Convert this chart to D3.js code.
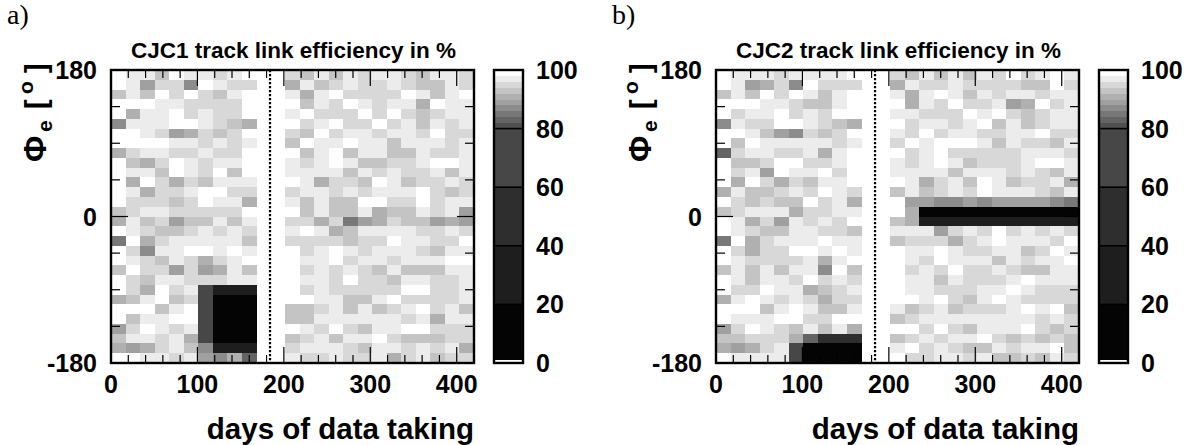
<!DOCTYPE html>
<html>
<head>
<meta charset="utf-8">
<script src="https://cdn.jsdelivr.net/npm/d3@7/dist/d3.min.js"></script>
<style>
  body { margin: 0; background: #fff; }
  svg { display: block; }
  text { font-family: "Liberation Sans", Arial, Helvetica, sans-serif; font-weight: bold; fill: #000; }
  .panel-tag { font-family: "Liberation Serif", "DejaVu Serif", serif; font-weight: normal; }
</style>
</head>
<body>
<svg id="fig" width="1194" height="445"></svg>
<script>
// ---- binning of the maps -------------------------------------------------
const dayRange = [0, 420];          // days of data taking
const nDayBins = 25;
const phiRange = [-180, 180];       // azimuth of the electron, degrees
const nPhiBins = 30;

// ---- axis ticks ----------------------------------------------------------
const dayTickLabels = [0, 100, 200, 300, 400];
const dayMinorStep = 20;
const phiTickLabels = [-180, 0, 180];
const phiMinorStep = 45;
const effTickLabels = [0, 20, 40, 60, 80, 100];
const runBoundaryDay = 184;         // dotted line between the two running periods

// ---- contour levels of the grey palette (percent) -------------------------
const effLevels = [0, 1, 20, 40, 60, 80, 82, 84, 86, 88, 90, 92, 94, 96, 98, 100];
const effColors = ["#ffffff", "#040404", "#1e1e1e", "#2e2e2e", "#474747",
                   "#505050", "#646464", "#787878", "#8c8c8c", "#a0a0a0",
                   "#b0b0b0", "#c4c4c4", "#d8d8d8", "#ececec", "#ffffff"];

// ---- link efficiency (%) per (phi bin, day bin) ---------------------------
// one row per phi bin, first row = 168°..180°, last row = -180°..-168°;
// 25 day bins per row, null where no data were taken
const cjc1Eff = [
  [99,97,97,93,99,97,97,95,97,99,null,null,95,93,97,93,97,95,97,97,95,93,97,97,95],
  [99,97,89,95,95,87,99,97,95,95,null,null,91,97,93,95,97,95,95,97,95,93,93,97,95],
  [93,97,93,99,95,99,95,93,97,99,null,null,97,91,97,99,95,95,95,95,99,97,93,97,99],
  [99,99,99,97,97,95,95,95,95,99,null,null,99,93,97,95,99,97,95,97,97,91,99,97,97],
  [99,91,97,97,99,95,97,95,95,99,null,null,97,99,95,95,95,99,95,99,95,93,95,97,97],
  [87,97,97,97,99,99,97,95,93,91,null,null,99,95,97,99,95,95,99,95,97,93,97,95,97],
  [99,99,97,95,89,91,95,93,95,99,null,null,95,93,99,95,97,97,95,97,97,95,99,95,95],
  [99,99,99,99,97,97,95,97,95,97,null,null,93,99,97,97,99,97,97,93,97,97,97,95,97],
  [91,95,97,97,95,95,97,95,95,99,null,null,99,93,97,99,93,97,97,93,93,97,95,95,97],
  [99,93,91,95,99,97,95,97,97,99,null,null,97,95,97,99,97,93,93,95,95,97,99,99,97],
  [99,97,97,93,99,97,95,99,93,99,null,null,97,97,97,97,93,97,95,97,95,95,97,93,97],
  [99,91,99,95,91,95,93,97,97,97,null,null,99,97,91,95,95,93,99,97,93,95,95,97,95],
  [99,97,91,95,95,97,99,99,95,95,null,null,95,97,97,95,97,95,97,97,97,99,95,93,95],
  [99,95,95,95,93,95,99,97,97,91,null,null,97,93,97,93,93,99,99,95,95,99,95,97,97],
  [93,95,97,97,95,95,95,95,95,99,null,null,99,93,97,93,93,97,91,93,93,97,95,97,89],
  [91,97,93,95,89,93,93,97,93,97,null,null,95,95,91,95,85,89,91,95,93,93,89,91,89],
  [99,97,95,93,93,95,97,95,97,95,null,null,97,99,97,91,93,97,97,97,97,95,95,97,95],
  [85,99,91,95,97,97,97,97,97,93,null,null,95,95,95,95,93,95,95,99,97,97,95,95,99],
  [99,95,87,97,97,99,99,97,99,97,null,null,99,95,97,99,97,95,97,97,97,95,93,97,97],
  [99,97,95,93,97,95,91,95,97,99,null,null,99,97,97,99,95,97,97,95,97,97,97,99,99],
  [93,99,95,95,89,95,89,91,97,93,null,null,99,95,97,95,97,95,93,97,93,93,93,97,97],
  [99,95,93,97,97,95,95,95,97,97,null,null,99,97,97,95,99,95,95,93,97,97,95,95,97],
  [99,95,91,99,95,97,70,28,26,27,null,null,99,95,97,95,95,95,95,95,99,99,95,95,97],
  [91,93,97,99,93,95,68, 4, 3, 5,null,null,99,99,97,97,93,93,97,99,95,95,95,95,97],
  [99,99,99,93,97,99,69, 3, 4, 3,null,null,93,93,95,97,93,97,93,95,97,99,95,97,93],
  [99,93,97,97,99,99,68, 4, 3, 4,null,null,93,93,97,97,97,97,97,97,95,97,91,97,97],
  [89,95,99,97,95,97,70, 3, 4, 3,null,null,99,97,95,99,95,93,97,97,99,99,95,95,95],
  [93,97,97,95,97,91,70, 5, 4, 5,null,null,93,95,97,93,97,97,99,95,93,93,93,95,95],
  [91,89,91,95,97,93,87,30,32,31,null,null,95,97,97,97,95,93,97,97,95,97,95,97,91],
  [99,99,97,97,95,97,89,87,91,83,null,null,97,95,95,97,95,95,97,91,95,97,93,95,95]
];

const cjc2Eff = [
  [99,97,97,97,95,97,97,97,97,99,null,null,95,93,97,93,97,93,97,95,99,95,97,99,97],
  [99,97,89,91,95,87,99,95,95,95,null,null,91,97,95,95,97,95,95,95,95,93,93,99,95],
  [93,97,93,99,95,99,97,93,97,99,null,null,97,91,97,99,97,93,97,95,97,97,95,97,97],
  [99,99,99,97,97,95,93,93,97,99,null,null,99,91,97,95,99,95,95,97,89,91,99,95,97],
  [99,95,97,97,99,95,97,95,99,99,null,null,97,97,95,95,95,99,97,99,95,93,95,97,97],
  [87,97,95,95,99,99,97,95,93,91,null,null,99,95,97,97,95,97,99,93,97,93,95,97,97],
  [99,99,97,93,89,87,95,93,95,99,null,null,97,95,99,95,97,97,95,95,97,97,99,95,95],
  [99,93,99,97,97,97,97,97,95,97,null,null,95,99,97,99,99,99,97,93,97,95,95,93,97],
  [83,95,97,97,95,95,97,91,97,99,null,null,99,95,97,99,95,95,95,95,95,97,97,97,95],
  [99,93,93,95,99,99,95,95,97,99,null,null,97,95,97,99,97,93,95,95,95,97,99,99,97],
  [99,95,97,89,99,97,97,99,95,99,null,null,97,97,97,97,93,97,97,97,95,97,95,93,97],
  [99,91,99,95,91,95,93,97,97,99,null,null,99,97,91,95,97,93,99,97,93,95,95,97,91],
  [91,97,93,93,95,97,95,99,97,95,null,null,93,97,93,95,97,95,99,97,97,97,95,93,97],
  [99,95,93,95,93,93,99,95,97,91,null,null,99,89,89,87,87,89,87,89,89,89,89,87,85],
  [93,95,97,97,97,91,95,95,97,97,null,null,99,91, 4, 3, 1, 2, 2, 2, 3, 3, 3, 2, 3],
  [99,97,91,95,89,97,95,97,95,99,null,null,93,91,24,26,26,25,25,25,25,25,25,24,24],
  [99,97,95,93,93,97,97,95,95,93,null,null,97,97,97,89,95,97,95,99,95,97,95,97,95],
  [85,99,91,95,97,97,97,99,97,97,null,null,93,95,95,95,91,95,97,99,97,97,97,95,99],
  [99,95,91,95,95,99,99,97,99,97,null,null,99,97,97,99,97,95,95,97,97,93,95,99,97],
  [99,97,95,95,95,95,97,91,97,99,null,null,99,97,95,99,97,97,97,93,97,95,97,97,99],
  [93,97,93,97,93,97,97,87,99,93,null,null,99,95,97,95,99,95,95,97,95,93,93,97,97],
  [99,97,93,97,97,95,99,95,97,95,null,null,99,97,97,93,97,95,95,95,97,99,97,97,97],
  [99,95,95,99,97,97,91,93,95,97,null,null,99,97,97,95,95,95,97,97,99,97,95,95,95],
  [91,97,99,97,95,97,95,91,95,95,null,null,99,99,97,99,95,93,97,99,97,95,95,95,95],
  [99,99,99,93,97,99,97,93,93,97,null,null,97,93,95,97,93,95,95,95,97,99,97,99,93],
  [99,97,97,97,99,99,95,95,99,99,null,null,93,95,97,97,97,97,97,97,97,97,95,97,95],
  [89,95,99,97,95,93,97,93,97,91,null,null,99,99,95,99,95,93,97,97,97,99,95,93,95],
  [93,93,95,95,95,91,83,50,52,48,null,null,93,95,97,95,97,97,99,95,93,95,93,95,93],
  [91,89,91,95,97,70, 3, 2, 3, 4,null,null,97,99,95,97,95,93,93,97,95,97,97,99,93],
  [99,97,97,97,97,70, 6, 5, 6, 5,null,null,99,95,95,97,97,95,97,93,93,95,93,97,95]
];

const panels = [
  { tag: "a)", title: "CJC1 track link efficiency in %", values: cjc1Eff, left: 111 },
  { tag: "b)", title: "CJC2 track link efficiency in %", values: cjc2Eff, left: 716 }
];

// ---- geometry ---------------------------------------------------------------
const plotW = 363, plotTop = 70, plotH = 293;
const barDX = 383, barW = 29;       // colour bar offset from plot left edge

const svg = d3.select("#fig");
const color = d3.scaleThreshold().domain(effLevels.slice(1, -1)).range(effColors);
const dayStep = (dayRange[1] - dayRange[0]) / nDayBins;
const phiStep = (phiRange[1] - phiRange[0]) / nPhiBins;

panels.forEach(p => {
  const g = svg.append("g");
  const x = d3.scaleLinear().domain(dayRange).range([p.left, p.left + plotW]);
  const y = d3.scaleLinear().domain(phiRange).range([plotTop + plotH, plotTop]);

  // cells
  const cells = [];
  p.values.forEach((row, r) => row.forEach((v, c) => {
    if (v !== null) cells.push({ r, c, v });
  }));
  g.append("g").attr("shape-rendering", "crispEdges")
    .selectAll("rect").data(cells).join("rect")
    .attr("x", d => x(dayRange[0] + d.c * dayStep))
    .attr("width", d => x(dayRange[0] + (d.c + 1) * dayStep) - x(dayRange[0] + d.c * dayStep) + 0.3)
    .attr("y", d => y(phiRange[1] - d.r * phiStep))
    .attr("height", d => y(phiRange[1] - (d.r + 1) * phiStep) - y(phiRange[1] - d.r * phiStep) + 0.3)
    .attr("fill", d => color(d.v));

  // dotted boundary between running periods
  g.append("line")
    .attr("x1", x(runBoundaryDay)).attr("x2", x(runBoundaryDay))
    .attr("y1", y(phiRange[1])).attr("y2", y(phiRange[0]))
    .attr("stroke", "#000").attr("stroke-width", 2.2).attr("stroke-dasharray", "2.2,1.8");

  // ticks on all four sides, pointing inwards
  const ticks = g.append("g").attr("stroke", "#000").attr("stroke-width", 1.2);
  d3.range(dayRange[0] + dayMinorStep, dayRange[1], dayMinorStep).forEach(d => {
    const len = d % 100 === 0 ? 16 : 8;
    ticks.append("line").attr("x1", x(d)).attr("x2", x(d)).attr("y1", y(phiRange[0])).attr("y2", y(phiRange[0]) - len);
    ticks.append("line").attr("x1", x(d)).attr("x2", x(d)).attr("y1", y(phiRange[1])).attr("y2", y(phiRange[1]) + len);
  });
  d3.range(phiRange[0] + phiMinorStep, phiRange[1], phiMinorStep).forEach(a => {
    const len = a === 0 ? 17 : 9;
    ticks.append("line").attr("y1", y(a)).attr("y2", y(a)).attr("x1", x(dayRange[0])).attr("x2", x(dayRange[0]) + len);
    ticks.append("line").attr("y1", y(a)).attr("y2", y(a)).attr("x1", x(dayRange[1])).attr("x2", x(dayRange[1]) - len);
  });

  // frame
  g.append("rect")
    .attr("x", x(dayRange[0])).attr("y", y(phiRange[1]))
    .attr("width", plotW).attr("height", plotH)
    .attr("fill", "none").attr("stroke", "#000").attr("stroke-width", 2.4);

  // tick labels
  g.selectAll("text.xt").data(dayTickLabels).join("text")
    .attr("class", "xt").attr("x", d => x(d)).attr("y", plotTop + plotH + 30)
    .attr("text-anchor", "middle").attr("font-size", 25).text(d => d);
  g.selectAll("text.yt").data(phiTickLabels).join("text")
    .attr("class", "yt").attr("x", p.left - 14).attr("y", d => y(d) + 9)
    .attr("text-anchor", "end").attr("font-size", 25).text(d => d);

  // titles
  g.append("text").attr("x", p.left + plotW / 2 + 1).attr("y", 58)
    .attr("text-anchor", "middle").attr("font-size", 22.5).text(p.title);
  g.append("text").attr("x", p.left + plotW).attr("y", 439)
    .attr("text-anchor", "end").attr("font-size", 29.5).text("days of data taking");

  // vertical axis title: Φ_e [°], drawn piece by piece along the rotated baseline
  const yt = g.append("g").attr("transform", `translate(${p.left - 65},0) rotate(-90)`);
  yt.append("text").attr("x", -162).attr("y", 0).attr("font-size", 32).text("\u03A6");
  yt.append("text").attr("x", -132).attr("y", 6).attr("font-size", 21).text("e");
  yt.append("text").attr("x", -109).attr("y", 0).attr("font-size", 29).text("[");
  yt.append("text").attr("x", -94).attr("y", -13).attr("font-size", 21).text("o");
  yt.append("text").attr("x", -73).attr("y", 0).attr("font-size", 29).text("]");

  g.append("text").attr("class", "panel-tag")
    .attr("x", p.left - 104).attr("y", 24).attr("font-size", 28).text(p.tag);

  // colour bar
  const bx = p.left + barDX;
  const cb = d3.scaleLinear().domain([effLevels[0], effLevels[effLevels.length - 1]])
    .range([plotTop + plotH, plotTop]);
  const bands = d3.range(effLevels.length - 1).map(i => ({ lo: effLevels[i], hi: effLevels[i + 1], c: effColors[i] }));
  g.append("g").attr("shape-rendering", "crispEdges")
    .selectAll("rect").data(bands).join("rect")
    .attr("x", bx).attr("width", barW)
    .attr("y", d => cb(d.hi)).attr("height", d => cb(d.lo) - cb(d.hi) + 0.3)
    .attr("fill", d => d.c);
  g.append("g").selectAll("line").data(effTickLabels.slice(1, -1)).join("line")
    .attr("x1", bx).attr("x2", bx + barW)
    .attr("y1", d => cb(d)).attr("y2", d => cb(d))
    .attr("stroke", "#000").attr("stroke-width", 1.6);
  g.append("rect").attr("x", bx).attr("y", plotTop).attr("width", barW).attr("height", plotH)
    .attr("fill", "none").attr("stroke", "#000").attr("stroke-width", 2.4);
  g.selectAll("text.ct").data(effTickLabels).join("text")
    .attr("class", "ct").attr("x", bx + barW + 13).attr("y", d => cb(d) + 9)
    .attr("font-size", 25).text(d => d);
});
</script>
</body>
</html>
